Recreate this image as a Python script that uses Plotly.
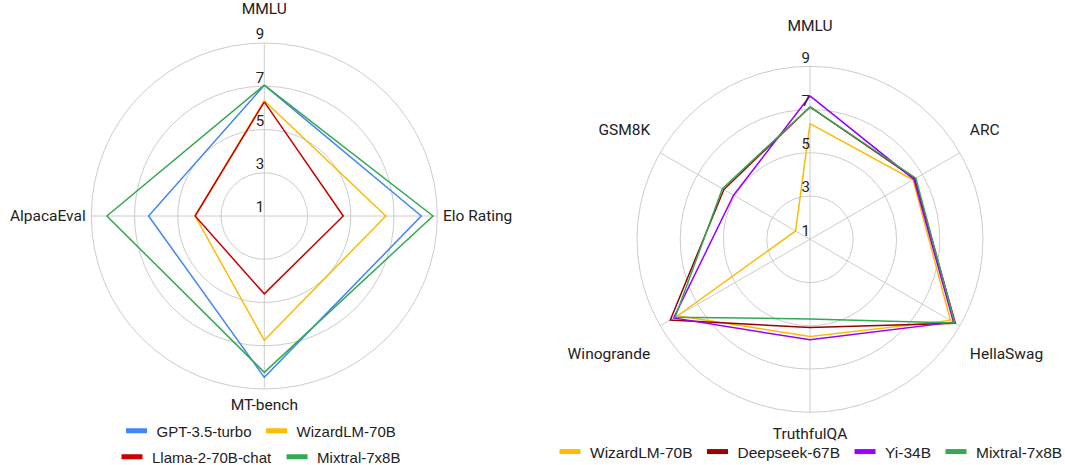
import plotly.graph_objects as go

# ---------------- data ----------------
left_axes = ["MMLU", "Elo Rating", "MT-bench", "AlpacaEval"]
left_models = ["GPT-3.5-turbo", "WizardLM-70B", "Llama-2-70B-chat", "Mixtral-7x8B"]
gpt35 = [7.05, 8.26, 8.46, 6.35]
wizard_left = [6.33, 6.62, 6.75, 4.2]
llama2 = [6.28, 4.65, 4.6, 4.2]
mixtral_left = [7.05, 8.8, 8.23, 8.28]

right_axes = ["MMLU", "ARC", "HellaSwag", "TruthfulQA", "Winogrande", "GSM8K"]
right_models = ["WizardLM-70B", "Deepseek-67B", "Yi-34B", "Mixtral-7x8B"]
wizard_right = [6.35, 6.5, 8.5, 5.49, 8.07, 1.77]
deepseek = [7.12, 6.6, 8.76, 5.08, 8.46, 5.6]
yi34 = [7.63, 6.55, 8.66, 5.65, 8.28, 5.08]
mixtral_right = [7.12, 6.65, 8.73, 4.68, 8.2, 5.68]

radial_ticks = [1, 3, 5, 7, 9]
radial_tick_labels = ["1", "3", "5", "7", "9"]

colors_left = ["#4285F4", "#FBBC04", "#CC0000", "#34A853"]
colors_right = ["#FBBC04", "#990000", "#9900FF", "#34A853"]

FONT = "Roboto, Arial, sans-serif"
LEGFONT = "Arial, 'Liberation Sans', sans-serif"
TXT = "#222222"
GRID = "#CCCCCC"

fig = go.Figure()


def close(v):
    return list(v) + [v[0]]


# left radar
for name, vals, col in zip(left_models, [gpt35, wizard_left, llama2, mixtral_left], colors_left):
    fig.add_trace(go.Scatterpolar(r=close(vals), theta=close(left_axes), mode="lines",
                                  line=dict(color=col, width=1.5), name=name,
                                  showlegend=False, subplot="polar"))
# right radar
for name, vals, col in zip(right_models, [wizard_right, deepseek, yi34, mixtral_right], colors_right):
    fig.add_trace(go.Scatterpolar(r=close(vals), theta=close(right_axes), mode="lines",
                                  line=dict(color=col, width=1.5), name=name,
                                  showlegend=False, subplot="polar2"))

# radial tick labels as text
for sp, ax0 in [("polar", left_axes[0]), ("polar2", right_axes[0])]:
    fig.add_trace(go.Scatterpolar(r=radial_ticks, theta=[ax0] * len(radial_ticks), mode="text",
                                  text=radial_tick_labels, textposition="top left",
                                  textfont=dict(family=FONT, size=15, color=TXT),
                                  cliponaxis=False, showlegend=False, hoverinfo="skip",
                                  subplot=sp))

# legend entries (short thick bars)
left_rows = [("legend", left_models[:2], colors_left[:2]), ("legend2", left_models[2:], colors_left[2:])]
for lg, names, cols in left_rows:
    for name, col in zip(names, cols):
        fig.add_trace(go.Scatterpolar(r=[None], theta=[left_axes[0]], mode="markers",
                                      marker=dict(symbol="line-ew", size=15,
                                                  line=dict(width=5, color=col)),
                                      name=name, legend=lg, subplot="polar"))
for name, col in zip(right_models, colors_right):
    fig.add_trace(go.Scatterpolar(r=[None], theta=[right_axes[0]], mode="markers",
                                  marker=dict(symbol="line-ew", size=15,
                                              line=dict(width=5, color=col)),
                                  name=name, legend="legend3", subplot="polar2"))

W, H = 1065, 465
R = 173
cl = (264.3, 216.0)
cr = (810.0, 239.3)


def dom(c):
    return dict(x=[(c[0] - R) / W, (c[0] + R) / W], y=[1 - (c[1] + R) / H, 1 - (c[1] - R) / H])


def polar_layout(c, axes, ticktext, tlen):
    return dict(
        domain=dom(c),
        bgcolor="white",
        radialaxis=dict(range=[1, 9], tickvals=radial_ticks, showticklabels=False,
                        showline=False, ticks="", gridcolor=GRID, gridwidth=1),
        angularaxis=dict(direction="clockwise", rotation=90, type="category",
                         categoryorder="array", categoryarray=axes,
                         tickmode="array", tickvals=axes, ticktext=ticktext,
                         linecolor=GRID, linewidth=1, gridcolor=GRID, gridwidth=1,
                         ticks="outside", ticklen=tlen, tickcolor="rgba(0,0,0,0)",
                         tickfont=dict(family=FONT, size=15.5, color=TXT)),
    )


left_text = ["MMLU<br> ", "Elo Rating", "MT-bench", "AlpacaEval"]
right_text = ["MMLU<br> ", "ARC<br> ", " <br>HellaSwag", "TruthfulQA", " <br>Winogrande", "GSM8K<br> "]
leg_common = dict(orientation="h", xanchor="center", yanchor="middle", bgcolor="rgba(0,0,0,0)")
fig.update_layout(
    width=W, height=H,
    margin=dict(l=0, r=0, t=0, b=0, autoexpand=False),
    paper_bgcolor="white",
    font=dict(family=FONT, size=15, color=TXT),
    polar=polar_layout(cl, left_axes, left_text, 2),
    polar2=polar_layout(cr, right_axes, right_text, 8),
    legend=dict(x=259 / W, y=1 - 431 / H, font=dict(family=LEGFONT, size=15, color=TXT), **leg_common),
    legend2=dict(x=259 / W, y=1 - 457 / H, font=dict(family=LEGFONT, size=15, color=TXT), **leg_common),
    legend3=dict(x=809 / W, y=1 - 452 / H, font=dict(family=LEGFONT, size=15.5, color=TXT), **leg_common),
    showlegend=True,
)

fig.write_html("out.html", config={"displayModeBar": False},
               post_script="document.body.style.margin='0';")
